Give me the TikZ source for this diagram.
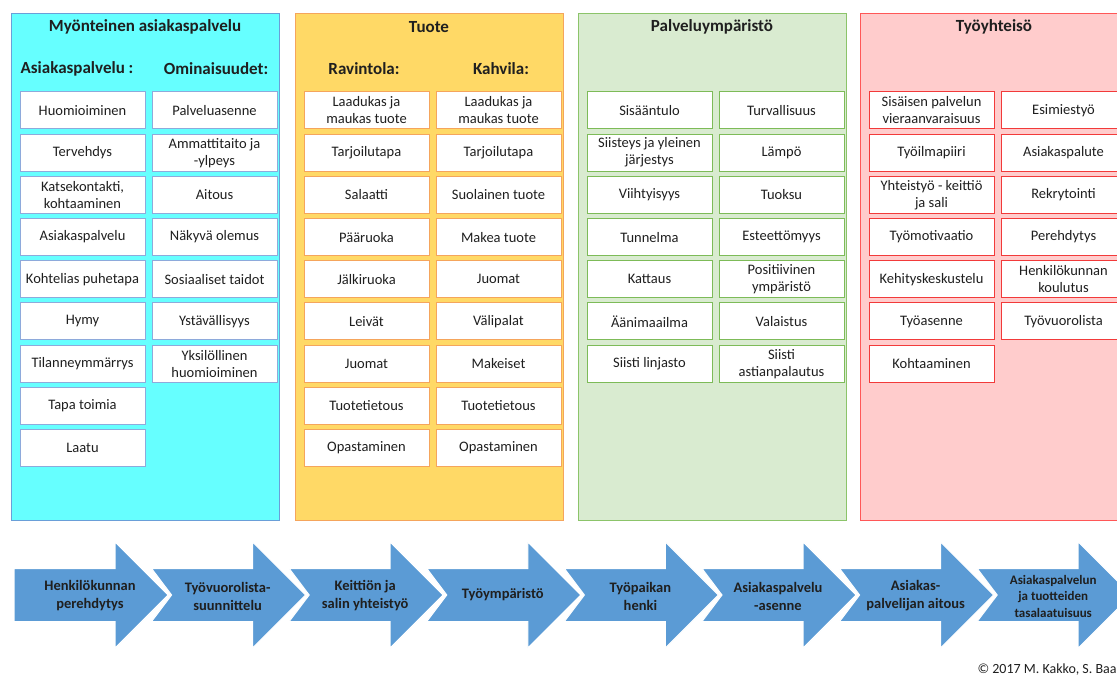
\documentclass[tikz,border=0pt]{standalone}
\usepackage{fontspec}
\setmainfont{Carlito}

\definecolor{cyanfill}{HTML}{66FFFF}
\definecolor{cyanline}{HTML}{6A9FD8}
\definecolor{cyanbox}{HTML}{8EAADB}
\definecolor{yellowfill}{HTML}{FFD966}
\definecolor{yellowline}{HTML}{F5A55C}
\definecolor{greenfill}{HTML}{D9EBD0}
\definecolor{greenline}{HTML}{8CC46A}
\definecolor{greenbox}{HTML}{7DBB58}
\definecolor{redfill}{HTML}{FFCCCC}
\definecolor{redline}{HTML}{FF5757}
\definecolor{redbox}{HTML}{F23A3A}
\definecolor{arrowblue}{HTML}{5B9BD5}
\definecolor{textgray}{HTML}{1F1F1F}

\tikzset{
  panel/.style={minimum width=268pt, minimum height=507pt, inner sep=0pt, line width=0.9pt},
  item/.style={fill=white, minimum width=125pt, minimum height=37pt, inner sep=1pt, align=center,
    line width=1pt, text=textgray, font=\fontsize{14.5}{17}\selectfont},
  heading/.style={text=textgray, font=\bfseries\fontsize{17}{20}\selectfont},
  stepfill/.style={fill=arrowblue, draw=white, line width=1pt},
  steptext/.style={align=center, text=textgray, font=\bfseries\fontsize{14.5}{18}\selectfont},
  firstarrow/.pic={\path[stepfill] (-101,-26.5) -- (0,-26.5) -- (0,-53) -- (53,0) -- (0,53) -- (0,26.5) -- (-101,26.5) -- cycle;},
  chevron/.pic={\path[stepfill] (-101,-26.5) -- (0,-26.5) -- (0,-53) -- (53,0) -- (0,53) -- (0,26.5) -- (-101,26.5) -- (-81,0) -- cycle;}
}

\begin{document}
\begin{tikzpicture}[x=1pt, y=-1pt,
  cyanitem/.style={item, draw=cyanbox},
  yellowitem/.style={item, draw=yellowline},
  greenitem/.style={item, draw=greenbox},
  reditem/.style={item, draw=redbox}]
\useasboundingbox[fill=white] (0,0) rectangle (1117,676);

% Myonteinen asiakaspalvelu
\node [panel, fill=cyanfill, draw=cyanline] (p1) at (145,266.5) {};
\node [heading] (t1) at (145,27) {Myönteinen asiakaspalvelu};
\node [heading] (h1a) at (77,69) {Asiakaspalvelu :};
\node [heading] (h1b) at (216,69) {Ominaisuudet:};
\node [cyanitem] (asp1) at (82.5,110.5) {Huomioiminen};
\node [cyanitem] (asp2) at (82.5,152.7) {Tervehdys};
\node [cyanitem] (asp3) at (82.5,194.9) {Katsekontakti,\\kohtaaminen};
\node [cyanitem] (asp4) at (82.5,237.1) {Asiakaspalvelu};
\node [cyanitem] (asp5) at (82.5,279.3) {Kohtelias puhetapa};
\node [cyanitem] (asp6) at (82.5,321.5) {Hymy};
\node [cyanitem] (asp7) at (82.5,363.7) {Tilanneymmärrys};
\node [cyanitem] (asp8) at (82.5,405.9) {Tapa toimia};
\node [cyanitem] (asp9) at (82.5,448.1) {Laatu};
\node [cyanitem] (omi1) at (214.5,110.5) {Palveluasenne};
\node [cyanitem] (omi2) at (214.5,152.7) {Ammattitaito ja\\-ylpeys};
\node [cyanitem] (omi3) at (214.5,194.9) {Aitous};
\node [cyanitem] (omi4) at (214.5,237.1) {Näkyvä olemus};
\node [cyanitem] (omi5) at (214.5,279.3) {Sosiaaliset taidot};
\node [cyanitem] (omi6) at (214.5,321.5) {Ystävällisyys};
\node [cyanitem] (omi7) at (214.5,363.7) {Yksilöllinen\\huomioiminen};

% Tuote
\node [panel, fill=yellowfill, draw=yellowline] (p2) at (429,266.5) {};
\node [heading] (t2) at (429,27) {Tuote};
\node [heading] (h2a) at (364,69) {Ravintola:};
\node [heading] (h2b) at (501,69) {Kahvila:};
\node [yellowitem] (rav1) at (366.5,110.5) {Laadukas ja\\maukas tuote};
\node [yellowitem] (rav2) at (366.5,152.7) {Tarjoilutapa};
\node [yellowitem] (rav3) at (366.5,194.9) {Salaatti};
\node [yellowitem] (rav4) at (366.5,237.1) {Pääruoka};
\node [yellowitem] (rav5) at (366.5,279.3) {Jälkiruoka};
\node [yellowitem] (rav6) at (366.5,321.5) {Leivät};
\node [yellowitem] (rav7) at (366.5,363.7) {Juomat};
\node [yellowitem] (rav8) at (366.5,405.9) {Tuotetietous};
\node [yellowitem] (rav9) at (366.5,448.1) {Opastaminen};
\node [yellowitem] (kah1) at (498.5,110.5) {Laadukas ja\\maukas tuote};
\node [yellowitem] (kah2) at (498.5,152.7) {Tarjoilutapa};
\node [yellowitem] (kah3) at (498.5,194.9) {Suolainen tuote};
\node [yellowitem] (kah4) at (498.5,237.1) {Makea tuote};
\node [yellowitem] (kah5) at (498.5,279.3) {Juomat};
\node [yellowitem] (kah6) at (498.5,321.5) {Välipalat};
\node [yellowitem] (kah7) at (498.5,363.7) {Makeiset};
\node [yellowitem] (kah8) at (498.5,405.9) {Tuotetietous};
\node [yellowitem] (kah9) at (498.5,448.1) {Opastaminen};

% Palveluymparisto
\node [panel, fill=greenfill, draw=greenline] (p3) at (712,266.5) {};
\node [heading] (t3) at (712,27) {Palveluympäristö};
\node [greenitem] (ymp1) at (649.5,110.5) {Sisääntulo};
\node [greenitem] (ymp2) at (649.5,152.7) {Siisteys ja yleinen\\järjestys};
\node [greenitem] (ymp3) at (649.5,194.9) {Viihtyisyys};
\node [greenitem] (ymp4) at (649.5,237.1) {Tunnelma};
\node [greenitem] (ymp5) at (649.5,279.3) {Kattaus};
\node [greenitem] (ymp6) at (649.5,321.5) {Äänimaailma};
\node [greenitem] (ymp7) at (649.5,363.7) {Siisti linjasto};
\node [greenitem] (ymp8) at (781.5,110.5) {Turvallisuus};
\node [greenitem] (ymp9) at (781.5,152.7) {Lämpö};
\node [greenitem] (ymp10) at (781.5,194.9) {Tuoksu};
\node [greenitem] (ymp11) at (781.5,237.1) {Esteettömyys};
\node [greenitem] (ymp12) at (781.5,279.3) {Positiivinen\\ympäristö};
\node [greenitem] (ymp13) at (781.5,321.5) {Valaistus};
\node [greenitem] (ymp14) at (781.5,363.7) {Siisti\\astianpalautus};

% Tyoyhteiso
\node [panel, fill=redfill, draw=redline] (p4) at (994,266.5) {};
\node [heading] (t4) at (994,27) {Työyhteisö};
\node [reditem] (tyo1) at (931.5,110.5) {Sisäisen palvelun\\vieraanvaraisuus};
\node [reditem] (tyo2) at (931.5,152.7) {Työilmapiiri};
\node [reditem] (tyo3) at (931.5,194.9) {Yhteistyö - keittiö\\ja sali};
\node [reditem] (tyo4) at (931.5,237.1) {Työmotivaatio};
\node [reditem] (tyo5) at (931.5,279.3) {Kehityskeskustelu};
\node [reditem] (tyo6) at (931.5,321.5) {Työasenne};
\node [reditem] (tyo7) at (931.5,363.7) {Kohtaaminen};
\node [reditem] (tyo8) at (1063.5,110.5) {Esimiestyö};
\node [reditem] (tyo9) at (1063.5,152.7) {Asiakaspalute};
\node [reditem] (tyo10) at (1063.5,194.9) {Rekrytointi};
\node [reditem] (tyo11) at (1063.5,237.1) {Perehdytys};
\node [reditem] (tyo12) at (1063.5,279.3) {Henkilökunnan\\koulutus};
\node [reditem] (tyo13) at (1063.5,321.5) {Työvuorolista};

% Process arrows
\pic at (115,595) {firstarrow};
\pic at (252.6,595) {chevron};
\pic at (390.2,595) {chevron};
\pic at (527.8,595) {chevron};
\pic at (665.4,595) {chevron};
\pic at (803,595) {chevron};
\pic at (940.6,595) {chevron};
\pic at (1078.2,595) {chevron};
\node [steptext] (s1) at (90,596) {Henkilökunnan\\perehdytys};
\node [steptext] (s2) at (227.6,596) {Työvuorolista-\\suunnittelu};
\node [steptext] (s3) at (365.2,596) {Keittiön ja\\salin yhteistyö};
\node [steptext] (s4) at (502.8,595) {Työympäristö};
\node [steptext] (s5) at (640.4,596) {Työpaikan\\henki};
\node [steptext] (s6) at (778,596) {Asiakaspalvelu\\-asenne};
\node [steptext] (s7) at (915.6,596) {Asiakas-\\palvelijan aitous};
\node [steptext, font=\bfseries\fontsize{13}{16.5}\selectfont] (s8) at (1053.2,596) {Asiakaspalvelun\\ja tuotteiden\\tasalaatuisuus};

\node [anchor=base west, text=textgray, font=\fontsize{14}{16}\selectfont] (copyr) at (974,673) {© 2017 M. Kakko, S. Baa};
\end{tikzpicture}
\end{document}
